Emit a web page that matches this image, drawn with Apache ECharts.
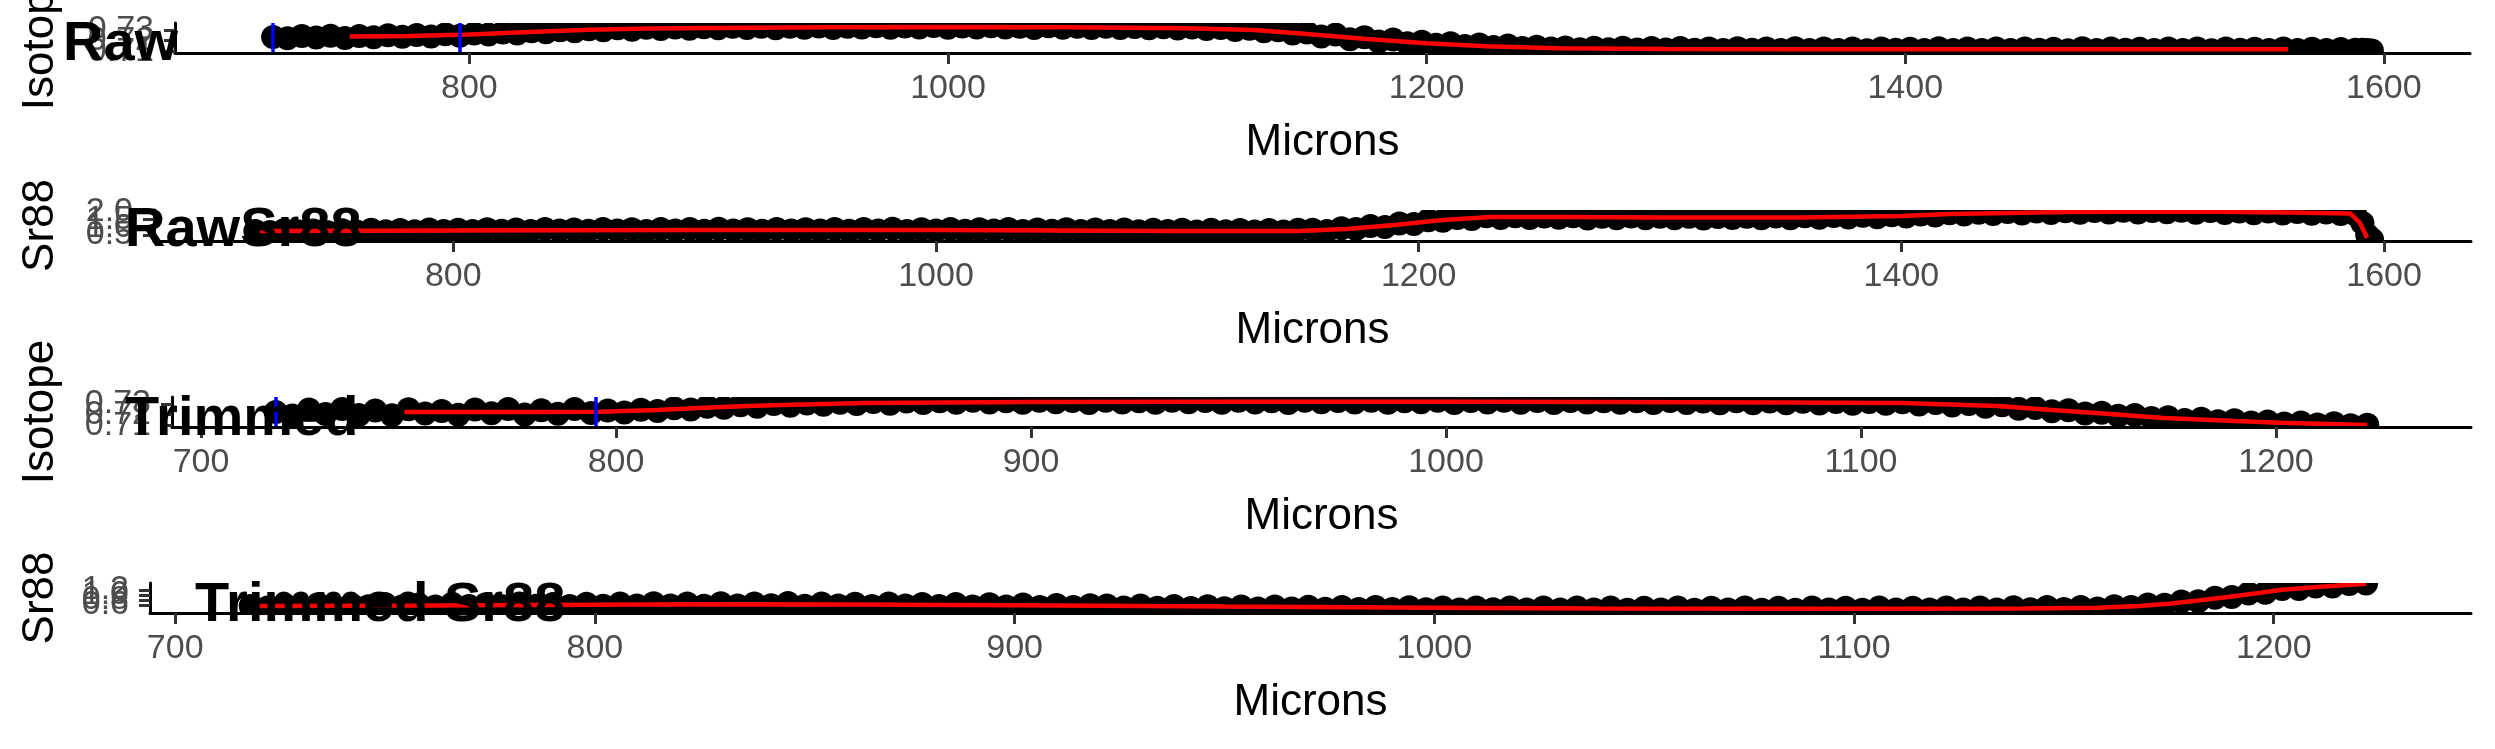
<!DOCTYPE html>
<html><head><meta charset="utf-8">
<script src="https://cdn.jsdelivr.net/npm/echarts@6/dist/echarts.min.js"></script>
<style>html,body{margin:0;padding:0;background:#fff}#c{width:2495px;height:749px}</style>
</head><body><div id="c"></div>
<script>
// ---------------- DATA ----------------
const rawMicrons = [718,724,730,736,742,748,754,760,766,772,
778,784,790,796,802,808,814,820,826,832,
838,844,850,856,862,868,874,880,886,892,
898,904,910,916,922,928,934,940,946,952,
958,964,970,976,982,988,994,1000,1006,1012,
1018,1024,1030,1036,1042,1048,1054,1060,1066,1072,
1078,1084,1090,1096,1102,1108,1114,1120,1126,1132,
1138,1144,1150,1156,1162,1168,1174,1180,1186,1192,
1198,1204,1210,1216,1222,1228,1234,1240,1246,1252,
1258,1264,1270,1276,1282,1288,1294,1300,1306,1312,
1318,1324,1330,1336,1342,1348,1354,1360,1366,1372,
1378,1384,1390,1396,1402,1408,1414,1420,1426,1432,
1438,1444,1450,1456,1462,1468,1474,1480,1486,1492,
1498,1504,1510,1516,1522,1528,1534,1540,1546,1552,
1558,1564,1570,1576,1582,1588,1591,1593,1595];

const rawIsotope = [0.7234,0.7223,0.7244,0.7230,0.7246,0.7225,0.7243,0.7231,0.7251,0.7236,
0.7252,0.7238,0.7260,0.7246,0.7268,0.7258,0.7277,0.7266,0.7289,0.7279,
0.7298,0.7289,0.7307,0.7297,0.7315,0.7302,0.7321,0.7309,0.7324,0.7311,
0.7326,0.7315,0.7329,0.7318,0.7331,0.7317,0.7331,0.7320,0.7333,0.7319,
0.7330,0.7322,0.7335,0.7321,0.7332,0.7324,0.7336,0.7320,0.7333,0.7322,
0.7335,0.7323,0.7331,0.7319,0.7334,0.7321,0.7331,0.7318,0.7330,0.7318,
0.7328,0.7316,0.7326,0.7314,0.7324,0.7309,0.7319,0.7300,0.7312,0.7289,
0.7298,0.7266,0.7277,0.7239,0.7257,0.7214,0.7233,0.7193,0.7211,0.7177,
0.7190,0.7163,0.7177,0.7150,0.7164,0.7141,0.7154,0.7132,0.7144,0.7126,
0.7137,0.7121,0.7134,0.7119,0.7133,0.7117,0.7131,0.7118,0.7132,0.7115,
0.7128,0.7113,0.7130,0.7116,0.7127,0.7112,0.7129,0.7114,0.7126,0.7113,
0.7128,0.7111,0.7127,0.7115,0.7125,0.7112,0.7130,0.7113,0.7126,0.7114,
0.7128,0.7112,0.7127,0.7116,0.7124,0.7111,0.7129,0.7113,0.7127,0.7115,
0.7125,0.7112,0.7128,0.7114,0.7126,0.7110,0.7127,0.7115,0.7124,0.7113,
0.7126,0.7112,0.7125,0.7114,0.7122,0.7116,0.7115,0.7113,0.7109];

const rawSr88 = [0.763,0.697,0.828,0.730,0.795,0.684,0.815,0.737,0.841,0.750,
0.828,0.743,0.861,0.763,0.841,0.756,0.880,0.782,0.854,0.769,
0.893,0.789,0.867,0.776,0.900,0.795,0.874,0.769,0.893,0.802,
0.887,0.782,0.906,0.802,0.880,0.776,0.900,0.795,0.874,0.789,
0.893,0.782,0.887,0.802,0.906,0.769,0.880,0.795,0.893,0.776,
0.874,0.789,0.887,0.763,0.867,0.782,0.880,0.756,0.861,0.769,
0.854,0.750,0.848,0.763,0.841,0.737,0.835,0.750,0.828,0.730,
0.828,0.737,0.835,
0.841,0.763,0.945,0.887,1.083,1.017,1.246,1.220,1.455,1.422,1.611,1.546,1.716,
1.611,1.729,1.605,1.709,1.618,1.716,1.579,1.690,1.598,1.703,
1.585,1.683,1.592,1.696,1.572,1.677,1.605,1.690,1.585,1.709,
1.598,1.716,1.624,1.735,1.644,1.761,1.663,1.781,
1.700,1.843,1.778,1.921,
1.830,1.954,1.869,1.993,1.895,2.025,1.928,2.051,
1.947,2.064,1.967,2.084,1.960,2.071,1.980,2.077,1.954,2.058,1.941,2.038,1.921,2.025,1.908,
2.006,1.882,1.973,1.862,1.856,
1.283,0.501,0.208];

const rawIsoFitX = [750,775,800,825,850,875,900,950,1000,1050,1100,1128,1150,1175,1200,1225,1255,1300,1350,1400,1450,1500,1560];
const rawIsoFitY = [0.72391,0.72437,0.72577,0.72811,0.73017,0.73138,0.73184,0.73250,0.73278,0.73259,0.73166,0.72998,0.72624,0.72157,0.71756,0.71485,0.71289,0.71223,0.71205,0.71195,0.71200,0.71195,0.71190];

const rawSrFitX = [720,800,900,1000,1100,1150,1170,1190,1210,1230,1260,1300,1358,1400,1420,1469,1520,1560,1586,1590,1593];
const rawSrFitY = [0.763,0.795,0.828,0.828,0.763,0.763,0.893,1.154,1.481,1.677,1.677,1.644,1.644,1.742,1.872,2.003,2.036,1.970,1.905,1.285,0.306];

const trimMicrons = [718,722,726,730,734,738,742,746,750,754,
758,762,766,770,774,778,782,786,790,794,
798,802,806,810,814,818,822,826,830,834,
838,842,846,850,854,858,862,866,870,874,
878,882,886,890,894,898,902,906,910,914,
918,922,926,930,934,938,942,946,950,954,
958,962,966,970,974,978,982,986,990,994,
998,1002,1006,1010,1014,1018,1022,1026,1030,1034,
1038,1042,1046,1050,1054,1058,1062,1066,1070,1074,
1078,1082,1086,1090,1094,1098,1102,1106,1110,1114,
1118,1122,1126,1130,1134,1138,1142,1146,1150,1154,
1158,1162,1166,1170,1174,1178,1182,1186,1190,1194,
1198,1202,1206,1210,1214,1218,1222];

const trimIsotope = [0.7225,0.7192,0.7248,0.7206,0.7253,0.7197,0.7239,0.7195,0.7251,0.7211,0.7234,
0.7199,0.7249,0.7214,0.7254,0.7202,0.7242,0.7208,0.7252,0.7216,0.7239,
0.7221,0.7247,0.7234,0.7261,0.7249,0.7273,0.7264,0.7287,0.7275,0.7299,0.7284,0.7304,0.7292,0.7311,0.7300,
0.7318,0.7303,0.7323,0.7309,0.7326,0.7311,0.7329,0.7313,0.7325,0.7312,
0.7330,0.7315,0.7327,0.7310,0.7331,0.7314,0.7326,0.7311,0.7331,0.7316,
0.7328,0.7312,0.7330,0.7314,0.7325,0.7310,0.7331,0.7315,0.7327,0.7313,
0.7329,0.7311,0.7326,0.7315,0.7330,0.7309,0.7327,0.7314,0.7331,0.7312,
0.7327,0.7310,0.7328,0.7313,0.7325,0.7311,0.7326,0.7308,0.7327,0.7310,
0.7324,0.7307,0.7325,0.7306,0.7322,0.7307,0.7321,0.7304,0.7319,0.7303,
0.7318,0.7302,0.7315,
0.7294,0.7309,0.7286,0.7299,0.7274,0.7287,0.7255,0.7262,0.7231,
0.7242,0.7210,0.7219,0.7189,0.7197,0.7169,0.7175,
0.7150,0.7162,0.7139,0.7149,0.7126,0.7137,0.7117,
0.7126,0.7109,0.7119,0.7102,0.7106];

const trimSr88 = [0.560,0.504,0.616,0.528,0.628,0.516,0.608,0.552,0.640,0.536,0.624,0.540,0.648,0.560,0.632,0.548,0.656,0.568,0.640,0.564,0.652,
0.572,0.664,0.576,0.672,0.584,0.660,0.568,0.668,0.580,0.656,0.592,0.676,0.572,0.660,0.584,0.652,0.564,0.656,0.576,0.644,
0.560,0.640,0.544,0.628,0.536,0.616,0.524,0.604,0.516,0.588,
0.584,0.496,0.576,0.492,0.564,0.480,0.552,0.472,0.544,0.464,
0.536,0.456,0.532,0.448,0.520,0.440,0.516,0.436,0.508,0.432,
0.504,0.424,0.500,0.428,0.504,0.420,0.496,0.424,0.500,0.416,
0.496,0.412,0.492,0.416,0.500,0.408,0.488,0.420,0.496,0.412,
0.492,0.408,0.500,0.416,0.488,0.412,0.496,0.420,0.492,0.416,
0.500,0.420,0.504,0.424,0.508,0.432,0.516,0.444,0.524,
0.464,0.552,0.524,0.620,0.612,
0.744,0.752,0.888,0.916,
1.056,1.092,1.236,1.240,
1.344,1.340,1.436,1.464];

const trimIsoFitX = [749,775,796,810,820,830,840,860,900,950,1000,1036,1080,1110,1133,1146,1160,1173,1190,1201,1222];
const trimIsoFitY = [0.7225,0.7225,0.7227,0.7244,0.7262,0.7278,0.7290,0.7309,0.7318,0.7320,0.7320,0.7318,0.7314,0.7309,0.7281,0.7244,0.7206,0.7169,0.7141,0.7125,0.7104];

const trimSrFitX = [720,760,800,825,860,900,950,1000,1039,1100,1140,1158,1168,1175,1182,1189,1196,1202,1212,1222];
const trimSrFitY = [0.56,0.58,0.612,0.628,0.62,0.592,0.54,0.492,0.46,0.452,0.46,0.492,0.56,0.652,0.78,0.92,1.072,1.212,1.34,1.452];

const rawCuts = [718, 796];
const trimCuts = [718, 795];

const rawXTicks = [800, 1000, 1200, 1400, 1600];
const trimXTicks = [700, 800, 900, 1000, 1100, 1200];
const isoYTicks = [0.71, 0.72, 0.73];
const rawSrYTicks = [0.5, 1.0, 1.5, 2.0];
const trimSrYTicks = [0.6, 0.8, 1.0, 1.2];

const titles = ['Raw', 'RawSr88', 'Trimmed', 'Trimmed Sr88'];
const yNames = ['Isotope', 'Sr88', 'Isotope', 'Sr88'];
const xName = 'Microns';

// ---------------- LAYOUT / STYLE ----------------
const FONT = '"Liberation Sans", Arial, Helvetica, sans-serif';
const panels = [
  {grid:{left:175, top:23, width:2295, height:30}, xr:[677,1636], xt:rawXTicks, yr:[0.7085,0.7365], yt:isoYTicks, dec:2, gap:112,
   mx:rawMicrons, my:rawIsotope, fx:rawIsoFitX, fy:rawIsoFitY, cuts:rawCuts, sym:24, tx:63, ty:45},
  {grid:{left:154, top:210, width:2317, height:31}, xr:[676,1636], xt:rawXTicks, yr:[0.11,2.13], yt:rawSrYTicks, dec:1, gap:91,
   mx:rawMicrons, my:rawSr88, fx:rawSrFitX, fy:rawSrFitY, cuts:null, sym:24, tx:125, ty:231},
  {grid:{left:172, top:397, width:2299, height:30}, xr:[693,1247], xt:trimXTicks, yr:[0.7085,0.7365], yt:isoYTicks, dec:2, gap:109,
   mx:trimMicrons, my:trimIsotope, fx:trimIsoFitX, fy:trimIsoFitY, cuts:trimCuts, sym:24, tx:125, ty:420},
  {grid:{left:150, top:583, width:2321, height:30}, xr:[694,1247], xt:trimXTicks, yr:[0.28,1.48], yt:trimSrYTicks, dec:1, gap:87,
   mx:trimMicrons, my:trimSr88, fx:trimSrFitX, fy:trimSrFitY, cuts:null, sym:24, tx:195, ty:606}
];

const grid = [], xAxis = [], yAxis = [], series = [], graphic = [];
panels.forEach((p, i) => {
  grid.push(Object.assign({containLabel:false, outerBoundsMode:'none'}, p.grid));
  xAxis.push({
    type:'value', gridIndex:i, min:p.xr[0], max:p.xr[1], z:5, position:'bottom',
    name:xName, nameLocation:'middle', nameGap:68,
    nameTextStyle:{fontFamily:FONT, fontSize:44, color:'#000'},
    axisLine:{show:true, onZero:false, lineStyle:{color:'#000', width:3}},
    axisTick:{show:true, length:11, customValues:p.xt, lineStyle:{color:'#333', width:3}},
    axisLabel:{show:true, margin:19, hideOverlap:false, customValues:p.xt, fontFamily:FONT, fontSize:34, color:'#4d4d4d', formatter:v => String(v)},
    splitLine:{show:false}
  });
  // one y axis per tick (all on the left, same place) so the overlapping tick labels are all drawn, as in the original
  const firstY = yAxis.length;
  p.yt.forEach((t, k) => {
    yAxis.push({
      type:'value', gridIndex:i, min:p.yr[0], max:p.yr[1], z:5, position:'left', offset:0,
      name: k === 0 ? yNames[i] : '', nameLocation:'middle', nameGap:p.gap, nameRotate:90,
      nameTextStyle:{fontFamily:FONT, fontSize:44, color:'#000'},
      axisLine:{show:k === 0, onZero:false, lineStyle:{color:'#000', width:3}},
      axisTick:{show:true, length:11, customValues:[t], lineStyle:{color:'#333', width:3}},
      axisLabel:{show:true, margin:21, hideOverlap:false, showMinLabel:true, showMaxLabel:true, customValues:[t],
        fontFamily:FONT, fontSize:34, color:'#4d4d4d', formatter:v => v.toFixed(p.dec)},
      splitLine:{show:false}
    });
  });
  series.push({
    type:'scatter', xAxisIndex:i, yAxisIndex:firstY, z:2, silent:true,
    symbol:'circle', symbolSize:p.sym, itemStyle:{color:'#000', opacity:1},
    data:p.mx.map((x, k) => [x, p.my[k]])
  });
  series.push({
    type:'line', xAxisIndex:i, yAxisIndex:firstY, z:3, silent:true,
    showSymbol:false, smooth:false, lineStyle:{color:'#ff0000', width:4.5}, itemStyle:{color:'#ff0000'},
    data:p.fx.map((x, k) => [x, p.fy[k]])
  });
  if (p.cuts) {
    series.push({
      type:'line', xAxisIndex:i, yAxisIndex:firstY, z:4, silent:true, data:[], showSymbol:false,
      markLine:{silent:true, symbol:['none','none'], label:{show:false}, animation:false,
        lineStyle:{color:'#0000ff', width:3.5, type:'solid'},
        data:p.cuts.map(c => ({xAxis:c}))}
    });
  }
  const g = p.grid;
  // white masks just outside the panel (panel clipping as in the original)
  graphic.push({type:'rect', z:4, silent:true, shape:{x:g.left+2, y:g.top+g.height+2, width:g.width, height:13}, style:{fill:'#fff'}});
  graphic.push({type:'rect', z:4, silent:true, shape:{x:g.left+2, y:g.top-15, width:g.width, height:15}, style:{fill:'#fff'}});
  graphic.push({type:'text', z:10, silent:true, x:p.tx, y:p.ty,
    style:{text:titles[i], font:'bold 56px ' + FONT, fill:'#000', verticalAlign:'middle', align:'left'}});
});

const chart = echarts.init(document.getElementById('c'), null, {renderer:'canvas', width:2495, height:749});
chart.setOption({
  animation:false,
  backgroundColor:'#fff',
  grid, xAxis, yAxis, series, graphic
});
</script>
</body></html>
